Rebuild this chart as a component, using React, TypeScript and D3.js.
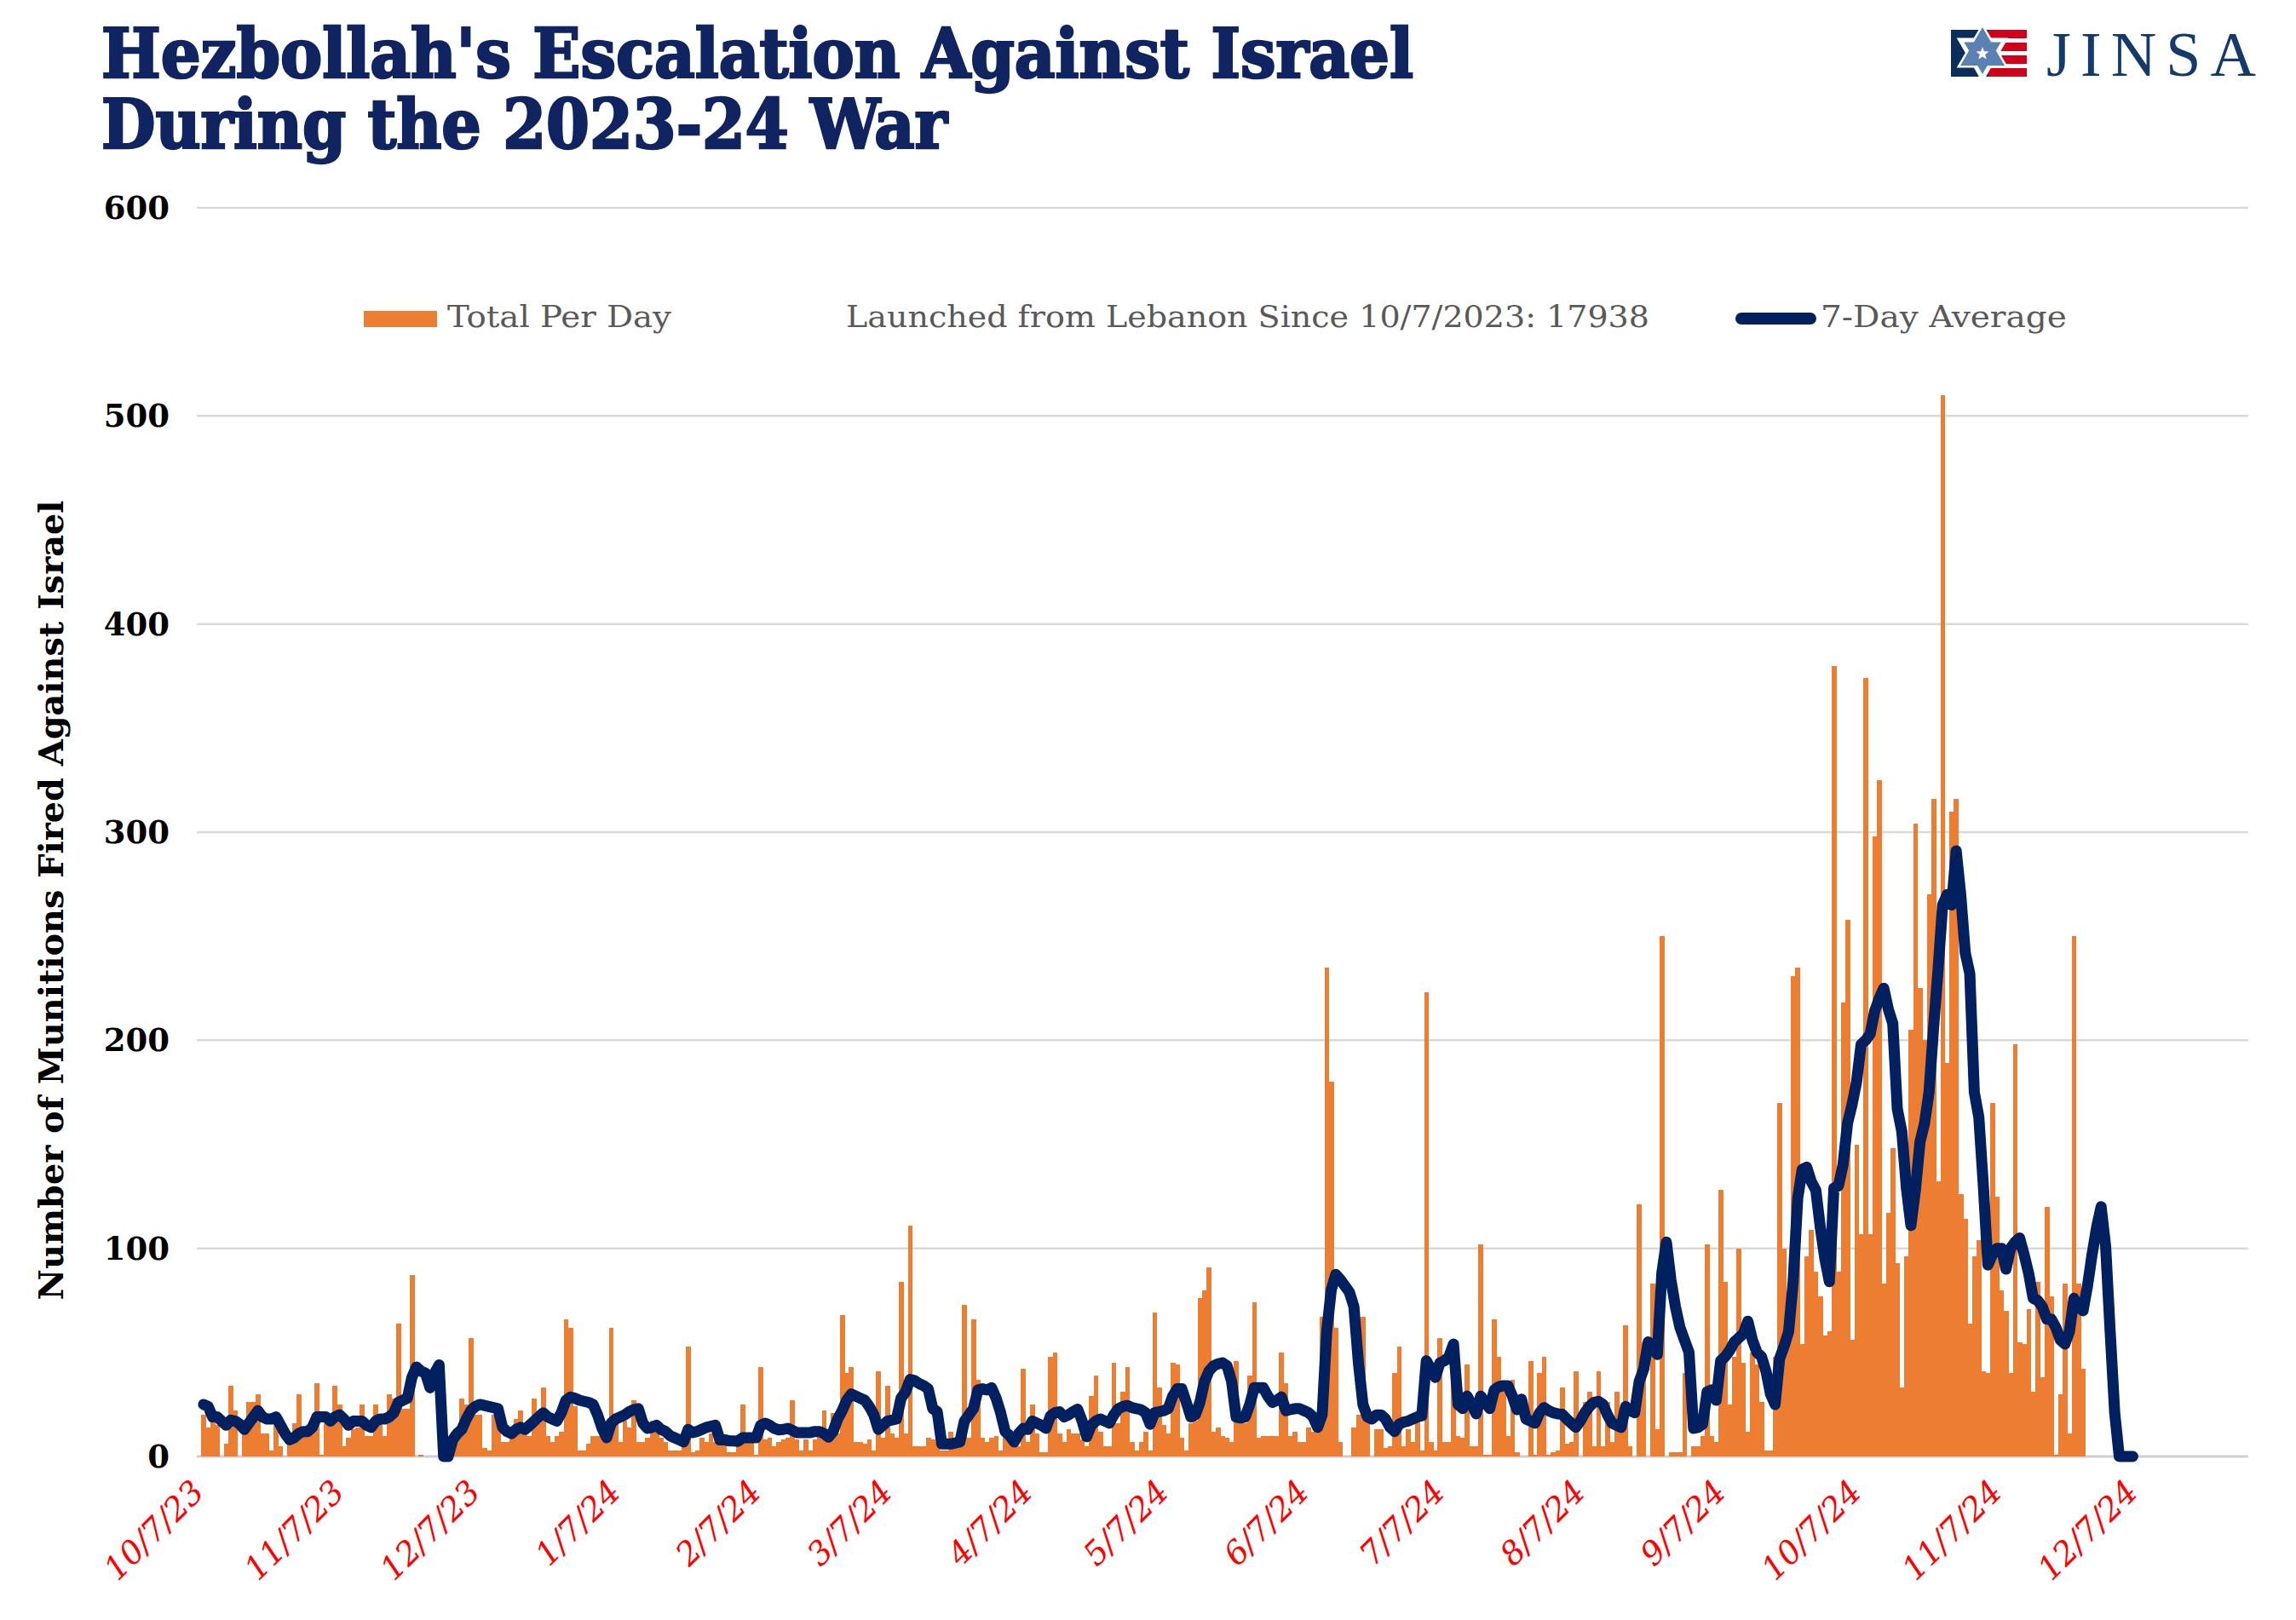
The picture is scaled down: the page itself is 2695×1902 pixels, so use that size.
import React from 'react';
import * as d3 from 'd3';

// ---------- DATA ----------
// Daily munitions totals, first value = 10/8/2023
const barsOct23 = [20, 14, 18, 15, 0, 6, 34, 22, 0, 12, 26, 26, 30, 11, 11, 3, 16, 5, 0, 8, 16, 30, 13, 11];
const barsNov23 = [17, 35, 1, 16, 16, 34, 25, 5, 9, 13, 14, 25, 10, 10, 25, 16, 10, 30, 28, 64, 23, 23, 87, 0, 1, 0, 0, 0, 0, 0];
const barsDec23 = [0, 12, 12, 28, 25, 57, 20, 20, 4, 3, 20, 19, 7, 7, 12, 18, 22, 12, 10, 28, 16, 33, 10, 7, 10, 12, 66, 62, 24, 3, 3];
const barsJan24 = [6, 10, 10, 10, 12, 62, 20, 7, 17, 14, 27, 7, 7, 9, 17, 15, 9, 7, 3, 3, 3, 8, 53, 2, 3, 9, 7, 11, 7, 7, 7];
const barsFeb24 = [2, 2, 6, 25, 9, 10, 1, 43, 8, 9, 5, 7, 8, 9, 27, 8, 3, 8, 3, 8, 14, 22, 9, 21, 11, 68, 40, 43, 7];
const barsMar24 = [7, 6, 8, 3, 41, 9, 34, 11, 9, 84, 11, 111, 5, 5, 5, 9, 8, 7, 3, 3, 12, 7, 9, 73, 9, 66, 37, 9, 7, 9, 10];
const barsApr24 = [3, 17, 7, 5, 5, 42, 7, 25, 11, 2, 2, 48, 50, 11, 7, 13, 11, 11, 8, 5, 29, 39, 12, 5, 5, 45, 16, 31, 43, 7];
const barsMay24 = [3, 7, 12, 3, 69, 33, 15, 11, 45, 44, 9, 3, 16, 17, 76, 80, 91, 12, 14, 10, 9, 7, 46, 17, 16, 39, 74, 9, 10, 10, 10];
const barsJun24 = [10, 50, 35, 10, 12, 7, 7, 14, 12, 12, 67, 235, 180, 62, 7, 0, 0, 14, 20, 67, 19, 0, 13, 13, 4, 5, 40, 53, 5, 13];
const barsJul24 = [7, 18, 3, 223, 7, 3, 57, 7, 7, 50, 10, 9, 44, 5, 5, 102, 1, 1, 66, 48, 33, 10, 37, 2, 0, 0, 46, 1, 40, 48, 1];
const barsAug24 = [2, 3, 33, 6, 7, 41, 0, 26, 31, 5, 41, 5, 26, 7, 31, 14, 63, 5, 0, 121, 55, 0, 83, 13, 250, 0, 2, 2, 2, 40, 0];
const barsSep24 = [5, 5, 10, 102, 10, 7, 128, 84, 25, 48, 100, 45, 12, 50, 44, 26, 3, 3, 48, 170, 100, 62, 231, 235, 54, 96, 109, 89, 77, 58];
const barsOct24 = [60, 380, 89, 218, 258, 56, 150, 107, 374, 107, 298, 325, 83, 117, 148, 93, 33, 96, 205, 304, 225, 200, 270, 316, 132, 510, 189, 310, 316, 126, 114];
const barsNov24 = [64, 96, 104, 41, 40, 170, 125, 80, 70, 40, 198, 55, 54, 71, 31, 84, 38, 120, 77, 1, 30, 83, 11, 250, 83, 42];

// 7-day average line, first value = 10/8/2023
const avgOct23 = [25, 24, 19, 19, 17, 15, 17.5, 17, 15.5, 13, 16, 19, 22, 19, 18, 18, 19, 15, 11, 8, 9, 11, 12, 12];
const avgNov23 = [14, 19, 19, 19, 17, 19, 20, 18, 15, 17, 17, 17, 15, 14, 17, 18, 18, 19, 21, 26, 27, 28, 38, 43, 41, 40, 33, 40, 44, 0];
const avgDec23 = [0, 8, 11, 13, 18, 22, 24, 25, 24.5, 24, 23.5, 23, 14, 12, 11, 13, 14, 13, 15, 17, 19, 21, 19, 18, 17, 21, 27, 28.5, 28, 27, 26.5];
const avgJan24 = [26, 25, 20, 13.5, 9, 16, 18, 19, 20, 21.5, 22.5, 23, 16, 13.5, 14, 15, 13, 12, 10, 9, 8, 7, 13, 11.5, 12, 13, 14, 14.5, 15, 8, 8];
const avgFeb24 = [7.5, 7.5, 7.3, 9, 9, 9, 9, 15, 16, 15, 13.5, 12.8, 13, 13.5, 12.5, 11.5, 11.5, 11.5, 11.5, 12, 12, 11, 9.3, 12, 18, 22, 27, 30, 29];
const avgMar24 = [28, 27, 24, 20, 13, 15, 17, 17.5, 18, 28, 31, 37, 36.5, 35, 34, 32.5, 23, 21.5, 6, 6, 6, 6.5, 7, 17, 20, 23, 32, 32.5, 32, 33, 28];
const avgApr24 = [21, 12, 10, 7, 11, 13.5, 13, 17, 16, 15, 13.5, 19.5, 21, 21.5, 19, 20, 21.5, 22.7, 17, 9.5, 15, 17, 18, 17, 16, 20, 23, 24, 24.5, 23.5];
const avgMay24 = [23, 22.5, 21, 15.5, 21, 21.5, 22, 23, 29, 32.5, 32.5, 26, 19, 20, 26, 36, 41, 43.5, 44.5, 45, 43.5, 36, 19, 18.5, 19, 25, 33, 33, 33, 29, 26];
const avgJun24 = [27, 28.6, 22, 22.5, 23, 23, 22, 21, 19, 14, 20, 60, 80, 87.5, 85, 82, 79, 72, 45, 25, 19, 18, 20, 20, 18, 14, 12, 15.5, 16.5, 17];
const avgJul24 = [18, 19, 19.6, 46, 42, 38, 45, 46, 48, 54, 25, 23, 29, 25, 20.5, 29, 26, 23, 32, 33.5, 34, 34, 29, 22.5, 27.5, 18, 17, 16, 21, 23.5, 22];
const avgAug24 = [21, 20.5, 20.3, 18, 16, 14, 17, 21, 24, 26, 26.5, 25, 20, 16, 15, 14, 24, 22, 21, 36, 42, 55, 52, 49, 88, 103, 85, 72, 62, 56, 50];
const avgSep24 = [13.5, 14, 15.5, 31, 32, 27, 46, 48, 51, 55, 57, 59, 65, 56, 50, 48, 41, 30, 25, 47, 53, 60, 84, 124, 138, 139, 132, 128, 110, 95];
const avgOct24 = [84, 129, 130, 140, 160, 169, 180, 198, 200, 203, 214, 220, 225, 215, 208, 167, 156, 129, 111, 128, 151, 160, 175, 206, 234, 265, 270, 265, 291, 270, 242];
const avgNov24 = [232, 175, 163, 130, 92, 97, 100, 100, 90, 100, 103, 105, 97, 88, 76, 75, 72, 66, 66, 62, 56, 54, 60, 76, 72, 70, 82, 97, 110, 120];
const avgDec24 = [101, 60, 21, 0, 0, 0, 0];

const tickLabels = ['10/7/23', '11/7/23', '12/7/23', '1/7/24', '2/7/24', '3/7/24', '4/7/24', '5/7/24', '6/7/24', '7/7/24', '8/7/24', '9/7/24', '10/7/24', '11/7/24', '12/7/24'];
const yTicks = [0, 100, 200, 300, 400, 500, 600];

const dailyTotals = [...barsOct23, ...barsNov23, ...barsDec23, ...barsJan24, ...barsFeb24, ...barsMar24, ...barsApr24, ...barsMay24, ...barsJun24, ...barsJul24, ...barsAug24, ...barsSep24, ...barsOct24, ...barsNov24];
const sevenDayAvg = [...avgOct23, ...avgNov23, ...avgDec23, ...avgJan24, ...avgFeb24, ...avgMar24, ...avgApr24, ...avgMay24, ...avgJun24, ...avgJul24, ...avgAug24, ...avgSep24, ...avgOct24, ...avgNov24, ...avgDec24];

const DAY = 864e5;
const START = Date.UTC(2023, 9, 8);

function parseTick(s: string) {
  const [m, d, y] = s.split('/').map(Number);
  return Date.UTC(2000 + y, m - 1, d);
}

export default function App() {
  const W = 2695, H = 1902;
  const left = 231, right = 2639, top = 244, bottom = 1710;
  const x = d3.scaleUtc().domain([Date.UTC(2023, 9, 6, 12), Date.UTC(2025, 0, 1, 12)]).range([left, right]);
  const y = d3.scaleLinear().domain([0, 600]).range([bottom, top]);
  const bw = x(new Date(START + DAY)) - x(new Date(START));

  const bars = dailyTotals.map((v, k) => ({ d: new Date(START + k * DAY), v }));
  const pts = sevenDayAvg.map((v, k) => ({ d: new Date(START + k * DAY), v }));
  const line = d3.line<{ d: Date; v: number }>().x(p => x(p.d)).y(p => y(p.v));

  const navy = '#0f2460';
  const serif = '"DejaVu Serif", serif';
  const serifC = '"DejaVu Serif Condensed", "DejaVu Serif", serif';

  return (
    <svg width={W} height={H} style={{ position: 'absolute', left: 0, top: 0, background: '#fff' }} xmlns="http://www.w3.org/2000/svg">
      <rect width={W} height={H} fill="#fff" />
      {/* Title */}
      <text x={119} y={91} fontFamily={serifC} fontWeight="bold" fontSize={80} fill={navy} stroke={navy} strokeWidth={2.5} textLength={1540} lengthAdjust="spacingAndGlyphs">Hezbollah's Escalation Against Israel</text>
      <text x={119} y={174} fontFamily={serifC} fontWeight="bold" fontSize={80} fill={navy} stroke={navy} strokeWidth={2.5} textLength={993} lengthAdjust="spacingAndGlyphs">During the 2023-24 War</text>

      {/* Logo */}
      <g>
        <rect x={2290} y={35} width={44} height={55} fill="#0b2d5b" />
        {[35, 50, 65, 80].map(yy => (
          <rect key={yy} x={2334} y={yy} width={45} height={10} fill="#d0021b" />
        ))}
        {[45, 60, 75].map(yy => (
          <rect key={'w' + yy} x={2334} y={yy} width={45} height={5} fill="#fff" />
        ))}
        {(() => {
          const cx = 2327, cy = 62, r = 30;
          const tri = (rot: number) => d3.range(3).map(k => {
            const a = rot + k * 2 * Math.PI / 3;
            return [cx + r * Math.sin(a), cy - r * Math.cos(a)];
          }).map(p => p.join(',')).join(' ');
          const star5 = d3.range(10).map(k => {
            const a = k * Math.PI / 5;
            const rr = k % 2 === 0 ? 8 : 3.4;
            return [cx + rr * Math.sin(a), cy + 1 - rr * Math.cos(a)].join(',');
          }).join(' ');
          return (
            <g>
              <polygon points={tri(0)} fill="#5b80b2" stroke="#fff" strokeWidth={5} strokeLinejoin="miter" />
              <polygon points={tri(Math.PI)} fill="#5b80b2" stroke="#fff" strokeWidth={5} strokeLinejoin="miter" />
              <polygon points={tri(0)} fill="#5b80b2" />
              <polygon points={star5} fill="#fff" />
            </g>
          );
        })()}
        <text x={2402} y={89} fontFamily='"Liberation Serif", serif' fontSize={74} fill="#143a6b" textLength={246} lengthAdjust="spacing">JINSA</text>
      </g>

      {/* Gridlines */}
      {yTicks.map(t => (
        <line key={t} x1={left} x2={right} y1={y(t)} y2={y(t)} stroke={t === 0 ? '#d0d0d0' : '#d9d9d9'} strokeWidth={t === 0 ? 3 : 2.5} />
      ))}

      {/* Y tick labels */}
      {yTicks.map(t => (
        <text key={'l' + t} x={199} y={y(t) + 13} textAnchor="end" fontFamily={serif} fontWeight="bold" fontSize={37} fill="#000">{t}</text>
      ))}

      {/* Y axis title */}
      <text transform="translate(74,1057) rotate(-90)" textAnchor="middle" fontFamily={serifC} fontWeight="bold" fontSize={40} fill="#000" textLength={939} lengthAdjust="spacingAndGlyphs">Number of Munitions Fired  Against Israel</text>

      {/* Bars */}
      <g shapeRendering="crispEdges">
        {bars.map((b, k) => b.v > 0 ? (
          <rect key={k} x={x(b.d) - bw / 2} y={y(b.v)} width={bw + 0.4} height={bottom - y(b.v)} fill="#ed7d31" />
        ) : null)}
      </g>

      {/* 7-day average */}
      <path d={line(pts) || ''} fill="none" stroke="#002060" strokeWidth={13} strokeLinejoin="round" strokeLinecap="round" />

      {/* X tick labels */}
      {tickLabels.map(s => {
        const tx = x(new Date(parseTick(s)));
        return (
          <text key={s} transform={`translate(${tx + 8},${1754}) rotate(-45)`} textAnchor="end" fontFamily={serif} fontStyle="italic" fontSize={38} fill="#ff0000">{s}</text>
        );
      })}

      {/* Legend */}
      <rect x={427} y={365} width={86} height={19} fill="#ed7d31" />
      <text x={525} y={384} fontFamily={serifC} fontSize={36} fill="#595959" textLength={263} lengthAdjust="spacingAndGlyphs">Total Per Day</text>
      <text x={993} y={384} fontFamily={serifC} fontSize={36} fill="#595959" textLength={943} lengthAdjust="spacingAndGlyphs">Launched from Lebanon Since 10/7/2023: 17938</text>
      <line x1={2044} x2={2125} y1={374} y2={374} stroke="#002060" strokeWidth={14} strokeLinecap="round" />
      <text x={2137} y={384} fontFamily={serifC} fontSize={36} fill="#595959" textLength={289} lengthAdjust="spacingAndGlyphs">7-Day Average</text>
    </svg>
  );
}
